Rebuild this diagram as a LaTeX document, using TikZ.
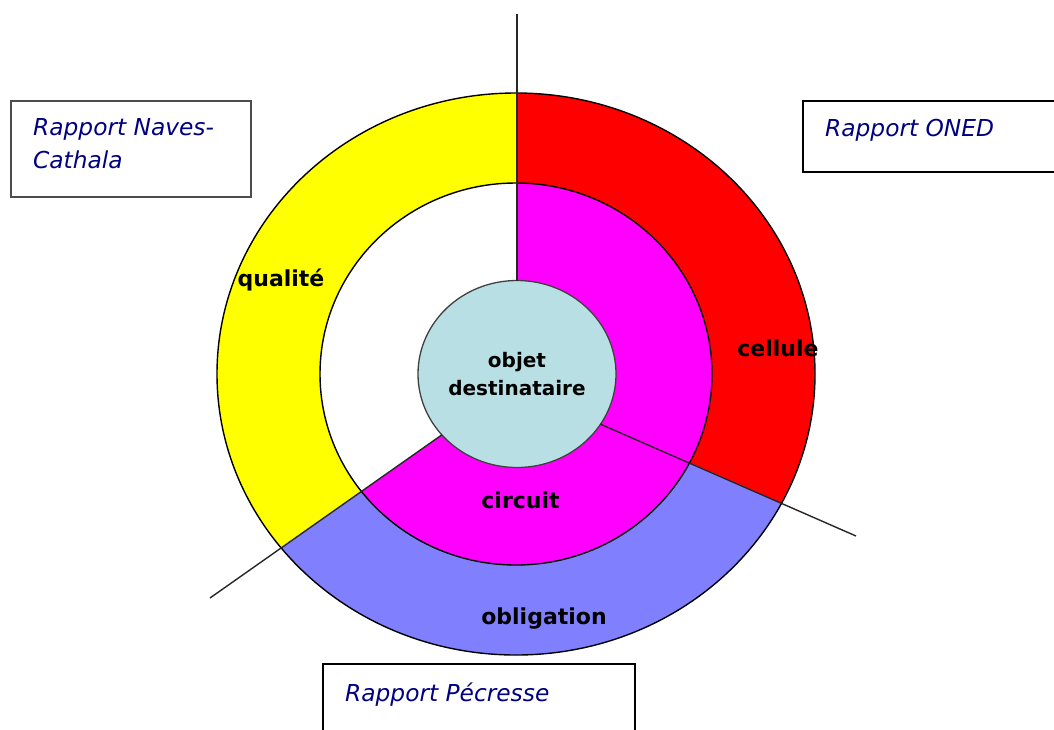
\documentclass[tikz,border=0pt]{standalone}
\usepackage{fontspec}
\setmainfont{DejaVu Sans}
\usepackage{tikz}
\usetikzlibrary{calc, positioning, shapes.geometric}
\definecolor{ringyellow}{RGB}{255,255,0}
\definecolor{ringred}{RGB}{255,0,0}
\definecolor{ringmagenta}{RGB}{255,0,255}
\definecolor{ringblue}{RGB}{128,128,255}
\definecolor{coreblue}{RGB}{184,224,228}
\definecolor{rapportblue}{RGB}{0,0,128}
\tikzset{
    ring/.style={draw=black, line width=1.4pt},
    spoke/.style={draw=black!85, line width=1.4pt},
    core/.style={ellipse, draw=black!75, line width=1.3pt, fill=coreblue, minimum width=198pt, minimum height=187pt, inner sep=0pt, outer sep=0pt, align=center, font=\fontsize{20}{28}\selectfont\bfseries},
    seglabel/.style={anchor=base, inner sep=0pt, font=\fontsize{22}{26}\selectfont\bfseries},
    repbox/.style={rectangle, draw=black, line width=1.8pt, fill=white, anchor=north west, outer sep=0pt},
    reptext/.style={anchor=base west, align=left, inner sep=0pt, text=rapportblue, font=\fontsize{23.3}{33}\selectfont\itshape}
}
\begin{document}
\begin{tikzpicture}[x=1pt, y=-1pt]
    \useasboundingbox (0,0) rectangle (1054,729);
    \clip (0,0) rectangle (1054,729);

    % Sector corners
    \coordinate (apex) at (513.5,385);
    \coordinate (axis) at (517,385);
    \coordinate (farLL) at (-260,928);
    \coordinate (farLR) at (1364,760);

    % Outer ring
    \begin{scope}
        \clip (516,374) ellipse [x radius=299, y radius=281];
        \fill[ringyellow] (axis) -- (apex) -- (farLL) -- (-400,-300) -- (517,-300) -- cycle;
        \fill[ringred] (517,-300) -- (1500,-300) -- (farLR) -- (apex) -- (axis) -- cycle;
        \fill[ringblue] (apex) -- (farLL) -- (-260,1200) -- (1364,1200) -- (farLR) -- cycle;
    \end{scope}

    % Inner ring
    \begin{scope}
        \clip (516,374) ellipse [x radius=196, y radius=191];
        \fill[white] (axis) -- (apex) -- (farLL) -- (-400,-300) -- (517,-300) -- cycle;
        \fill[ringmagenta] (517,-300) -- (1500,-300) -- (1500,1200) -- (-260,1200) -- (farLL) -- (apex) -- (axis) -- cycle;
    \end{scope}
    \draw[ring] (516,374) ellipse [x radius=299, y radius=281];
    \draw[ring] (516,374) ellipse [x radius=196, y radius=191];

    % Centre
    \node[core] (core) at (517,374) {objet\\destinataire};

    % Spokes
    \coordinate (topEnd) at (517,14);
    \coordinate (llEnd) at (210,598);
    \coordinate (lrEnd) at (856,536);
    \draw[spoke] (topEnd) -- (core.north);
    \draw[spoke] (llEnd) -- (core.219);
    \draw[spoke] (lrEnd) -- (core.-31);

    % Ring labels
    \node[seglabel] (quality) at (281,286.7) {qualité};
    \node[seglabel] (cell) at (778,356.7) {cellule};
    \node[seglabel] (circuit) at (520.5,508) {circuit};
    \node[seglabel] (duty) at (544,624) {obligation};

    % Reports
    \node[repbox, draw=black!70, line width=1.3pt, minimum width=240pt, minimum height=96pt] (navesBox) at (11,101) {};
    \node[reptext] (navesText) at ([shift={(22,67)}]navesBox.north west) {Rapport Naves-\\Cathala};

    \node[repbox, minimum width=300pt, minimum height=71pt] (onedBox) at (803,101) {};
    \node[reptext] (onedText) at ([shift={(22,35.7)}]onedBox.north west) {Rapport ONED};

    \node[repbox, minimum width=312pt, minimum height=100pt] (pecresseBox) at (323,664) {};
    \node[reptext] (pecresseText) at ([shift={(22,37.7)}]pecresseBox.north west) {Rapport Pécresse};
\end{tikzpicture}
\end{document}
